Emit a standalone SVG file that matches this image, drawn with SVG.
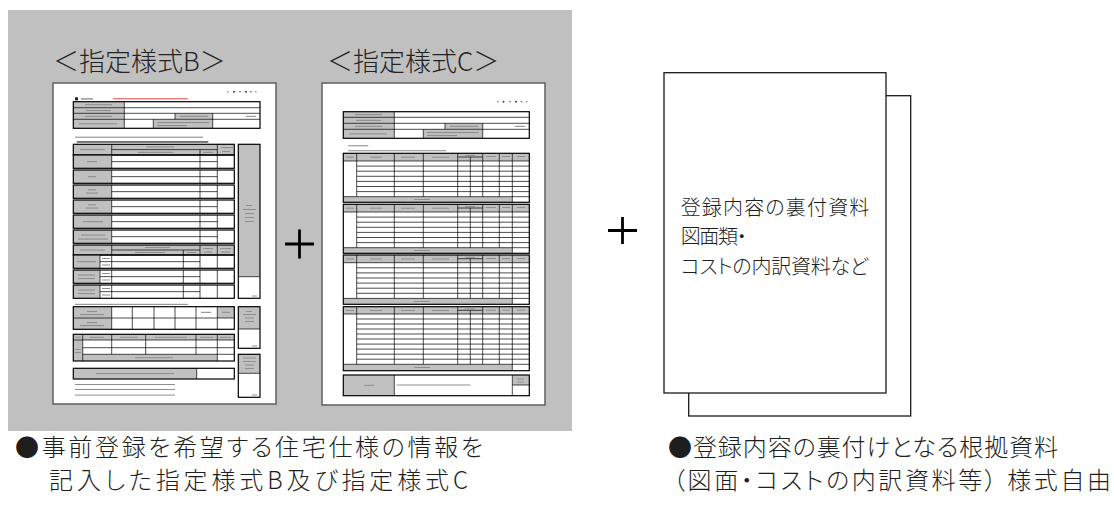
<svg xmlns="http://www.w3.org/2000/svg" width="1114" height="509" viewBox="0 0 1114 509">
<style>
.bg{fill:#c0c0c0}
.page{fill:#fff;stroke:#5f5f5f;stroke-width:1.5}
.hd{font-family:"Noto Sans CJK JP","Noto Sans CJK SC",sans-serif;font-size:26px;font-weight:300;fill:#222}
.txt{font-family:"Noto Sans CJK JP","Noto Sans CJK SC",sans-serif;font-weight:300;fill:#1e1e1e;font-feature-settings:"palt"}
.g{fill:#c0c0c0}
.t{fill:none;stroke:#000;stroke-width:1.2}
.tl{fill:none;stroke:#000;stroke-width:0.7}
.m{fill:#8f8f8f}
.plus{stroke:#000;stroke-width:2.8;fill:none}
.doc{fill:#fff;stroke:#1a1a1a;stroke-width:1.3}
</style>
<rect class="bg" x="8" y="10" width="564" height="421"/>
<g id="headings">
<text class="hd" x="53" y="71">＜指定様式B＞</text>
<text class="hd" x="327" y="71">＜指定様式C＞</text>
</g>
<g id="formB">
<rect class="page" x="53" y="83" width="223" height="321"/>
<g fill="#444"><circle cx="234" cy="91.7" r="1"/><circle cx="246" cy="91.7" r="1"/></g>
<g class="m"><rect x="227" y="91" width="1.5" height="1.4"/><rect x="239" y="91" width="2" height="1.2"/><rect x="250" y="91" width="2" height="1.4"/><rect x="255" y="91" width="1.5" height="1.4"/></g>
<rect x="75" y="97.3" width="3" height="3" fill="#222"/>
<rect class="m" x="81" y="98.2" width="12" height="1.4"/>
<rect x="113" y="98" width="75" height="1.4" fill="#f07a7a"/>
<rect class="g" x="73.3" y="101.7" width="51" height="26.6"/>
<rect class="g" x="175" y="113.3" width="37.7" height="6"/>
<rect class="g" x="153.3" y="119.3" width="59.4" height="9"/>
<rect class="t" x="73.3" y="101.7" width="186.7" height="26.6"/>
<path class="tl" d="M73.3 107.7H260M73.3 113.3H260M73.3 119.3H260M124.3 101.7V128.3M175 113.3V119.3M212.7 113.3V128.3M153.3 119.3V128.3"/>
<g class="m"><rect x="85" y="104.1" width="27" height="1.1"/><rect x="86" y="110" width="25" height="1.1"/><rect x="85" y="115.8" width="27" height="1.1"/><rect x="79" y="123.3" width="38" height="1.1"/><rect x="180" y="115.8" width="28" height="1.1"/><rect x="157" y="122" width="52" height="1.1"/><rect x="157" y="125" width="30" height="1.1"/><rect x="246" y="115.8" width="10" height="1.1"/></g>
<rect class="m" x="75" y="136.7" width="128" height="1.1"/>
<rect x="76.7" y="141.3" width="131.6" height="1.3" fill="#333"/>
<rect class="g" x="73.3" y="144.3" width="161" height="10.7"/>
<rect class="t" x="73.3" y="144.3" width="161" height="10.7"/>
<path class="tl" d="M111.7 144.3V155M217.3 144.3V155M111.7 149.6H217.3M200 149.6V155"/>
<g class="m"><rect x="80" y="149.1" width="25" height="1.1"/><rect x="146" y="146.4" width="28" height="1.1"/><rect x="138" y="151.8" width="35" height="1.1"/><rect x="203" y="151.8" width="10" height="1.1"/><rect x="221" y="147" width="12" height="1.1"/><rect x="222" y="151" width="8" height="1.1"/></g>
<g>
<rect class="g" x="73.3" y="155" width="38.4" height="13.3"/><rect class="t" x="73.3" y="155" width="161" height="13.3"/>
<path class="tl" d="M111.7 155V168.3M200 155V168.3M217.3 155V168.3M111.7 161.65H217.3"/>
<rect class="g" x="73.3" y="170" width="38.4" height="13.3"/><rect class="t" x="73.3" y="170" width="161" height="13.3"/>
<path class="tl" d="M111.7 170V183.3M200 170V183.3M217.3 170V183.3M111.7 176.65H217.3"/>
<rect class="g" x="73.3" y="185" width="38.4" height="13.3"/><rect class="t" x="73.3" y="185" width="161" height="13.3"/>
<path class="tl" d="M111.7 185V198.3M200 185V198.3M217.3 185V198.3M111.7 191.65H217.3"/>
<rect class="g" x="73.3" y="200" width="38.4" height="13.3"/><rect class="t" x="73.3" y="200" width="161" height="13.3"/>
<path class="tl" d="M111.7 200V213.3M200 200V213.3M217.3 200V213.3M111.7 206.65H217.3"/>
<rect class="g" x="73.3" y="215" width="38.4" height="13.3"/><rect class="t" x="73.3" y="215" width="161" height="13.3"/>
<path class="tl" d="M111.7 215V228.3M200 215V228.3M217.3 215V228.3M111.7 221.65H217.3"/>
<rect class="g" x="73.3" y="230" width="38.4" height="13.3"/><rect class="t" x="73.3" y="230" width="161" height="13.3"/>
<path class="tl" d="M111.7 230V243.3M200 230V243.3M217.3 230V243.3M111.7 236.65H217.3"/>
</g>
<g class="m"><rect x="87" y="161.1" width="10" height="1.1"/><rect x="88" y="176.1" width="8" height="1.1"/><rect x="88" y="189.3" width="8" height="1.1"/><rect x="86" y="192.5" width="12" height="1.1"/><rect x="88" y="204.3" width="8" height="1.1"/><rect x="86" y="207.5" width="12" height="1.1"/><rect x="83" y="221.1" width="20" height="1.1"/><rect x="81" y="234.5" width="24" height="1.1"/><rect x="78" y="238.5" width="30" height="1.1"/></g>
<rect class="g" x="73.3" y="245" width="161" height="10"/>
<rect class="t" x="73.3" y="245" width="161" height="10"/>
<path class="tl" d="M111.7 245V255M200 245V255M217.3 245V255M111.7 250H200M183.3 250V255"/>
<g class="m"><rect x="80" y="249.5" width="25" height="1.1"/><rect x="145" y="247" width="25" height="1.1"/><rect x="135" y="252" width="30" height="1.1"/><rect x="187" y="252" width="9" height="1.1"/><rect x="203" y="248" width="10" height="1.1"/><rect x="204" y="251.5" width="8" height="1.1"/><rect x="220" y="248" width="11" height="1.1"/><rect x="221" y="251.5" width="9" height="1.1"/></g>
<g>
<rect class="g" x="73.3" y="255" width="26.7" height="13.3"/><rect class="t" x="73.3" y="255" width="161" height="13.3"/>
<path class="tl" d="M100 255V268.3M111.7 255V268.3M183.3 255V268.3M200 255V268.3M217.3 255V268.3M100 261.65H200"/>
<rect class="g" x="73.3" y="270" width="26.7" height="13.3"/><rect class="t" x="73.3" y="270" width="161" height="13.3"/>
<path class="tl" d="M100 270V283.3M111.7 270V283.3M183.3 270V283.3M200 270V283.3M217.3 270V283.3M100 276.65H200"/>
<rect class="g" x="73.3" y="285" width="26.7" height="13.3"/><rect class="t" x="73.3" y="285" width="161" height="13.3"/>
<path class="tl" d="M100 285V298.3M111.7 285V298.3M183.3 285V298.3M200 285V298.3M217.3 285V298.3M100 291.65H200"/>
</g>
<g class="m"><rect x="77" y="261.1" width="19" height="1.1"/><rect x="78" y="274.5" width="17" height="1.1"/><rect x="78" y="278" width="17" height="1.1"/><rect x="78" y="289.5" width="17" height="1.1"/><rect x="78" y="293" width="17" height="1.1"/><rect x="102" y="258" width="8" height="1"/><rect x="102" y="264.5" width="8" height="1"/><rect x="102" y="273" width="8" height="1"/><rect x="102" y="279.5" width="8" height="1"/><rect x="102" y="288" width="8" height="1"/><rect x="102" y="294.5" width="8" height="1"/></g>
<rect class="g" x="238.3" y="144.3" width="21.7" height="132.4"/>
<rect class="t" x="238.3" y="144.3" width="21.7" height="154"/>
<path class="tl" d="M238.3 276.7H260"/>
<g class="m"><rect x="246" y="205" width="6" height="1"/><rect x="243" y="209" width="13" height="1"/><rect x="245" y="213" width="9" height="1"/><rect x="245" y="217" width="9" height="1"/><rect x="245" y="221" width="9" height="1"/><rect x="252" y="295.5" width="5" height="1"/></g>
<rect class="m" x="75" y="303.8" width="113" height="1.1"/>
<rect class="g" x="73.3" y="306.7" width="38.4" height="22.6"/>
<rect class="g" x="217.3" y="306.7" width="17" height="11.3"/>
<rect class="t" x="73.3" y="306.7" width="161" height="22.6"/>
<path class="tl" d="M73.3 318H234.3M111.7 306.7V329.3M132.3 306.7V329.3M154 306.7V329.3M175 306.7V329.3M196 306.7V329.3M217.3 306.7V329.3"/>
<g class="m"><rect x="87" y="311" width="10" height="1.1"/><rect x="80" y="314" width="24" height="1.1"/><rect x="87" y="322" width="10" height="1.1"/><rect x="80" y="325" width="24" height="1.1"/><rect x="201" y="311.8" width="10" height="1.1"/><rect x="222" y="311.8" width="8" height="1.1"/></g>
<rect class="g" x="238.3" y="306.7" width="21.7" height="22.3"/>
<rect class="t" x="238.3" y="306.7" width="21.7" height="41.6"/>
<path class="tl" d="M238.3 329H260"/>
<g class="m"><rect x="246" y="311" width="6" height="1"/><rect x="243" y="314" width="13" height="1"/><rect x="245" y="317.5" width="9" height="1"/><rect x="245" y="321" width="9" height="1"/><rect x="252" y="345.5" width="5" height="1"/></g>
<rect class="g" x="73.3" y="334.3" width="161" height="5.7"/>
<rect class="g" x="73.3" y="340" width="9.4" height="21"/>
<rect class="g" x="82.7" y="354.3" width="134.6" height="6.7"/>
<rect class="t" x="73.3" y="334.3" width="161" height="26.7"/>
<path class="tl" d="M73.3 340H234.3M82.7 347.7H234.3M82.7 354.3H234.3M82.7 334.3V361M111.7 334.3V354.3M145.7 334.3V354.3M196 334.3V354.3M217.3 334.3V361"/>
<g class="m"><rect x="75" y="336.8" width="6" height="1"/><rect x="90" y="336.8" width="14" height="1"/><rect x="120" y="336.8" width="18" height="1"/><rect x="155" y="336.8" width="32" height="1"/><rect x="200" y="336.8" width="13" height="1"/><rect x="220" y="336.8" width="11" height="1"/><rect x="75" y="349" width="6" height="1"/><rect x="75" y="352" width="6" height="1"/><rect x="135" y="357.2" width="38" height="1"/></g>
<rect class="g" x="238.3" y="354.3" width="21.7" height="19"/>
<rect class="t" x="238.3" y="354.3" width="21.7" height="43"/>
<path class="tl" d="M238.3 373.3H260"/>
<g class="m"><rect x="243" y="357.5" width="13" height="1"/><rect x="243" y="361" width="13" height="1"/><rect x="245" y="364.5" width="9" height="1"/><rect x="245" y="368" width="9" height="1"/><rect x="252" y="394.5" width="5" height="1"/></g>
<rect class="g" x="73.3" y="368.3" width="123.4" height="10.7"/>
<rect class="t" x="73.3" y="368.3" width="161" height="10.7"/>
<path class="tl" d="M196.7 368.3V379"/>
<rect class="m" x="96" y="373" width="78" height="1.1"/>
<g class="m"><rect x="75" y="384" width="100" height="1"/><rect x="75" y="389" width="100" height="1"/><rect x="75" y="394.6" width="100" height="1"/></g>
</g>
<g id="formC">
<rect class="page" x="322" y="83" width="223" height="322"/>
<g fill="#444"><circle cx="503.5" cy="101.7" r="1"/><circle cx="516" cy="101.7" r="1"/></g>
<g class="m"><rect x="497" y="101" width="1.5" height="1.4"/><rect x="509" y="101" width="2" height="1.2"/><rect x="520.5" y="101" width="2" height="1.4"/><rect x="526" y="101" width="1.5" height="1.4"/></g>
<rect class="g" x="343.3" y="111.7" width="51" height="26.6"/>
<rect class="g" x="445" y="123.3" width="37.7" height="6"/>
<rect class="g" x="423.3" y="129.3" width="59.4" height="9"/>
<rect class="t" x="343.3" y="111.7" width="186" height="26.6"/>
<path class="tl" d="M343.3 117.3H529.3M343.3 123.3H529.3M343.3 129.3H529.3M394.3 111.7V138.3M445 123.3V129.3M482.7 123.3V138.3M423.3 129.3V138.3"/>
<g class="m"><rect x="355" y="114" width="27" height="1.1"/><rect x="356" y="119.8" width="25" height="1.1"/><rect x="355" y="125.8" width="27" height="1.1"/><rect x="349" y="133.3" width="38" height="1.1"/><rect x="450" y="125.8" width="28" height="1.1"/><rect x="427" y="132" width="52" height="1.1"/><rect x="427" y="135" width="30" height="1.1"/><rect x="515" y="125.8" width="10" height="1.1"/></g>
<g class="m"><rect x="348.3" y="145.2" width="20" height="1.1"/><rect x="348.3" y="150.2" width="98" height="1.1"/></g>
<g>
<rect class="g" x="343.3" y="153.3" width="186" height="7.7"/>
<rect class="g" x="343.3" y="196.7" width="169" height="5.6"/>
<rect class="t" x="343.3" y="153.3" width="186" height="49"/>
<path class="tl" d="M343.3 161H529.3M356.7 166.1H529.3M356.7 171.2H529.3M356.7 176.3H529.3M356.7 181.4H529.3M356.7 186.5H529.3M356.7 191.6H529.3M343.3 196.7H529.3M356.7 153.3V196.7M394.3 153.3V196.7M423.3 153.3V196.7M457.7 153.3V196.7M470.3 157V196.7M482.7 153.3V196.7M499.3 153.3V196.7M512.3 153.3V202.3M457.7 157H482.7"/>
<rect class="g" x="343.3" y="204.3" width="186" height="7.7"/>
<rect class="g" x="343.3" y="247.7" width="169" height="5.6"/>
<rect class="t" x="343.3" y="204.3" width="186" height="49"/>
<path class="tl" d="M343.3 212H529.3M356.7 217.1H529.3M356.7 222.2H529.3M356.7 227.3H529.3M356.7 232.4H529.3M356.7 237.5H529.3M356.7 242.6H529.3M343.3 247.7H529.3M356.7 204.3V247.7M394.3 204.3V247.7M423.3 204.3V247.7M457.7 204.3V247.7M470.3 208V247.7M482.7 204.3V247.7M499.3 204.3V247.7M512.3 204.3V253.3M457.7 208H482.7"/>
<rect class="g" x="343.3" y="255" width="186" height="7.7"/>
<rect class="g" x="343.3" y="298.4" width="169" height="5.9"/>
<rect class="t" x="343.3" y="255" width="186" height="49.3"/>
<path class="tl" d="M343.3 262.7H529.3M356.7 267.8H529.3M356.7 272.9H529.3M356.7 278H529.3M356.7 283.1H529.3M356.7 288.2H529.3M356.7 293.3H529.3M343.3 298.4H529.3M356.7 255V298.4M394.3 255V298.4M423.3 255V298.4M457.7 255V298.4M470.3 258.7V298.4M482.7 255V298.4M499.3 255V298.4M512.3 255V304.3M457.7 258.7H482.7"/>
<rect class="g" x="343.3" y="306.7" width="186" height="7.3"/>
<rect class="g" x="343.3" y="364.3" width="169" height="6.4"/>
<rect class="t" x="343.3" y="306.7" width="186" height="64"/>
<path class="tl" d="M343.3 314H529.3M356.7 319H529.3M356.7 324H529.3M356.7 329H529.3M356.7 334H529.3M356.7 339H529.3M356.7 344.1H529.3M356.7 349.1H529.3M356.7 354.2H529.3M356.7 359.2H529.3M343.3 364.3H529.3M356.7 306.7V364.3M394.3 306.7V364.3M423.3 306.7V364.3M457.7 306.7V364.3M470.3 310.3V364.3M482.7 306.7V364.3M499.3 306.7V364.3M512.3 306.7V370.7M457.7 310.3H482.7"/>
</g>
<g class="m">
<rect x="346" y="156.7" width="8" height="1"/><rect x="370" y="156.7" width="12" height="1"/><rect x="401" y="156.7" width="14" height="1"/><rect x="432" y="156.7" width="17" height="1"/><rect x="465" y="155" width="10" height="1"/><rect x="486" y="156" width="10" height="1"/><rect x="502" y="156" width="8" height="1"/><rect x="517" y="156" width="8" height="1"/><rect x="414" y="199" width="16" height="1"/>
<rect x="346" y="207.7" width="8" height="1"/><rect x="370" y="207.7" width="12" height="1"/><rect x="401" y="207.7" width="14" height="1"/><rect x="432" y="207.7" width="17" height="1"/><rect x="465" y="206" width="10" height="1"/><rect x="486" y="207" width="10" height="1"/><rect x="502" y="207" width="8" height="1"/><rect x="517" y="207" width="8" height="1"/><rect x="414" y="250" width="16" height="1"/>
<rect x="346" y="258.4" width="8" height="1"/><rect x="370" y="258.4" width="12" height="1"/><rect x="401" y="258.4" width="14" height="1"/><rect x="432" y="258.4" width="17" height="1"/><rect x="465" y="256.8" width="10" height="1"/><rect x="486" y="258" width="10" height="1"/><rect x="502" y="258" width="8" height="1"/><rect x="517" y="258" width="8" height="1"/><rect x="414" y="300.9" width="16" height="1"/>
<rect x="346" y="310" width="8" height="1"/><rect x="370" y="310" width="12" height="1"/><rect x="401" y="310" width="14" height="1"/><rect x="432" y="310" width="17" height="1"/><rect x="465" y="308.4" width="10" height="1"/><rect x="486" y="309.6" width="10" height="1"/><rect x="502" y="309.6" width="8" height="1"/><rect x="517" y="309.6" width="8" height="1"/><rect x="414" y="367" width="16" height="1"/>
</g>
<rect class="g" x="343.3" y="375" width="51" height="20.7"/>
<rect class="g" x="512.3" y="375" width="17" height="10"/>
<rect class="t" x="343.3" y="375" width="186" height="20.7"/>
<path class="tl" d="M394.3 375V395.7M512.3 375V395.7M512.3 385H529.3"/>
<g class="m"><rect x="364" y="384.8" width="10" height="1"/><rect x="396.5" y="384.5" width="74" height="1"/><rect x="517" y="378.5" width="7" height="1"/><rect x="517" y="381.5" width="7" height="1"/></g>
</g>
<g id="plus1"><path class="plus" d="M285 244H314M299.5 229.5V258.5"/></g>
<g id="plus2"><path class="plus" d="M608 230.5H637M622.5 217V244"/></g>
<g id="docs">
<rect class="doc" x="688.7" y="95.7" width="222" height="320.3"/>
<rect class="doc" x="664" y="72.7" width="222" height="320.3"/>
<text class="txt" font-size="20" x="680.7" y="215" textLength="188.6" lengthAdjust="spacing">登録内容の裏付資料</text>
<text class="txt" font-size="20" x="680.7" y="243.5" textLength="66" lengthAdjust="spacing">図面類・</text>
<text class="txt" font-size="20" x="680.7" y="273.5" textLength="187.7" lengthAdjust="spacing">コストの内訳資料など</text>
</g>
<g id="captionLeft">
<text class="txt" font-size="24" x="15" y="456" textLength="468" lengthAdjust="spacing">●事前登録を希望する住宅仕様の情報を</text>
<text class="txt" font-size="24" x="49" y="489" textLength="419" lengthAdjust="spacing">記入した指定様式B及び指定様式C</text>
</g>
<g id="captionRight">
<text class="txt" font-size="24" x="668" y="456" textLength="390" lengthAdjust="spacing">●登録内容の裏付けとなる根拠資料</text>
<text class="txt" font-size="24" x="673" y="489" textLength="438" lengthAdjust="spacing">（図面・コストの内訳資料等） 様式自由</text>
</g>
</svg>
